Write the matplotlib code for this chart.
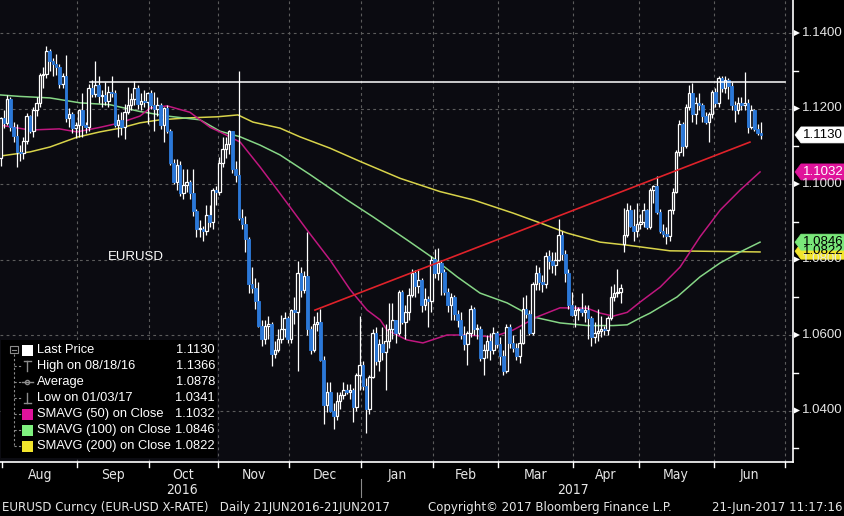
import numpy as np
import pandas as pd
import matplotlib
matplotlib.use("Agg")
import matplotlib.pyplot as plt
from matplotlib.patches import Polygon, Rectangle
from matplotlib.lines import Line2D
from matplotlib import font_manager as fm

# ---------------- data (O, H, L, C) per month ----------------
jul_2016 = [(1.1070, 1.1178, 1.1048, 1.1174)]
aug_2016 = [
    (1.1174, 1.1195, 1.1148, 1.1162), (1.1162, 1.1235, 1.1155, 1.1224), (1.1224, 1.1230, 1.1140, 1.1150),
    (1.1150, 1.1165, 1.1110, 1.1128), (1.1128, 1.1160, 1.1045, 1.1085), (1.1085, 1.1102, 1.1060, 1.1083),
    (1.1083, 1.1125, 1.1066, 1.1115), (1.1115, 1.1188, 1.1105, 1.1180), (1.1180, 1.1183, 1.1135, 1.1140),
    (1.1140, 1.1205, 1.1125, 1.1195), (1.1195, 1.1230, 1.1180, 1.1215), (1.1215, 1.1295, 1.1205, 1.1288),
    (1.1288, 1.1310, 1.1255, 1.1292), (1.1292, 1.1366, 1.1280, 1.1352), (1.1352, 1.1358, 1.1300, 1.1325),
    (1.1325, 1.1335, 1.1285, 1.1318), (1.1318, 1.1345, 1.1290, 1.1310), (1.1310, 1.1318, 1.1255, 1.1265),
    (1.1265, 1.1295, 1.1255, 1.1285), (1.1285, 1.1342, 1.1165, 1.1175), (1.1175, 1.1202, 1.1152, 1.1185),
    (1.1185, 1.1192, 1.1135, 1.1148), (1.1148, 1.1165, 1.1122, 1.1157),
]
sep_2016 = [
    (1.1157, 1.1200, 1.1125, 1.1195), (1.1195, 1.1240, 1.1125, 1.1155), (1.1155, 1.1165, 1.1135, 1.1150),
    (1.1150, 1.1265, 1.1140, 1.1255), (1.1255, 1.1275, 1.1230, 1.1238), (1.1238, 1.1327, 1.1230, 1.1262),
    (1.1262, 1.1285, 1.1215, 1.1232), (1.1232, 1.1250, 1.1205, 1.1235), (1.1235, 1.1270, 1.1210, 1.1220),
    (1.1220, 1.1260, 1.1205, 1.1245), (1.1245, 1.1285, 1.1230, 1.1240), (1.1240, 1.1250, 1.1150, 1.1155),
    (1.1155, 1.1185, 1.1125, 1.1170), (1.1170, 1.1190, 1.1130, 1.1150), (1.1150, 1.1212, 1.1120, 1.1190),
    (1.1190, 1.1257, 1.1185, 1.1208), (1.1208, 1.1240, 1.1195, 1.1225), (1.1225, 1.1272, 1.1210, 1.1255),
    (1.1255, 1.1262, 1.1200, 1.1212), (1.1212, 1.1240, 1.1195, 1.1220), (1.1220, 1.1250, 1.1205, 1.1218),
    (1.1218, 1.1245, 1.1160, 1.1240),
]
oct_2016 = [
    (1.1240, 1.1250, 1.1200, 1.1210), (1.1210, 1.1245, 1.1140, 1.1200), (1.1200, 1.1230, 1.1180, 1.1210),
    (1.1210, 1.1215, 1.1145, 1.1155), (1.1155, 1.1205, 1.1110, 1.1200), (1.1200, 1.1210, 1.1135, 1.1140),
    (1.1140, 1.1145, 1.1050, 1.1055), (1.1055, 1.1065, 1.1000, 1.1005), (1.1005, 1.1065, 1.0985, 1.1050),
    (1.1050, 1.1060, 1.0968, 1.0975), (1.0975, 1.1040, 1.0960, 1.0998), (1.0998, 1.1040, 1.0980, 1.1005),
    (1.1005, 1.1010, 1.0960, 1.0975), (1.0975, 1.1040, 1.0915, 1.0928), (1.0928, 1.0935, 1.0860, 1.0880),
    (1.0880, 1.0905, 1.0860, 1.0882), (1.0882, 1.0890, 1.0850, 1.0875), (1.0875, 1.0945, 1.0865, 1.0918),
    (1.0918, 1.0944, 1.0885, 1.0900), (1.0900, 1.0990, 1.0880, 1.0985), (1.0985, 1.0995, 1.0945, 1.0980),
]
nov_2016 = [
    (1.0980, 1.1072, 1.0970, 1.1055), (1.1055, 1.1125, 1.1045, 1.1092), (1.1092, 1.1125, 1.1070, 1.1105),
    (1.1105, 1.1143, 1.1080, 1.1140), (1.1140, 1.1140, 1.1030, 1.1040), (1.1040, 1.1060, 1.1005, 1.1025),
    (1.1025, 1.1300, 1.0905, 1.0910), (1.0910, 1.0935, 1.0880, 1.0895), (1.0895, 1.0915, 1.0820, 1.0855),
    (1.0855, 1.0860, 1.0710, 1.0735), (1.0735, 1.0780, 1.0710, 1.0725), (1.0725, 1.0750, 1.0670, 1.0690),
    (1.0690, 1.0740, 1.0620, 1.0625), (1.0625, 1.0640, 1.0570, 1.0590), (1.0590, 1.0640, 1.0575, 1.0625),
    (1.0625, 1.0650, 1.0590, 1.0630), (1.0630, 1.0635, 1.0518, 1.0550), (1.0550, 1.0585, 1.0540, 1.0560),
    (1.0560, 1.0615, 1.0555, 1.0590), (1.0590, 1.0654, 1.0580, 1.0615), (1.0615, 1.0660, 1.0595, 1.0645),
    (1.0645, 1.0650, 1.0580, 1.0590),
]
dec_2016 = [
    (1.0590, 1.0670, 1.0580, 1.0665), (1.0665, 1.0700, 1.0630, 1.0660), (1.0660, 1.0795, 1.0505, 1.0765),
    (1.0765, 1.0780, 1.0700, 1.0720), (1.0720, 1.0770, 1.0710, 1.0755), (1.0755, 1.0874, 1.0600, 1.0615),
    (1.0615, 1.0625, 1.0550, 1.0560), (1.0560, 1.0650, 1.0555, 1.0630), (1.0630, 1.0660, 1.0610, 1.0635),
    (1.0635, 1.0670, 1.0530, 1.0535), (1.0535, 1.0545, 1.0365, 1.0415), (1.0415, 1.0475, 1.0395, 1.0450),
    (1.0450, 1.0475, 1.0395, 1.0400), (1.0400, 1.0420, 1.0352, 1.0385), (1.0385, 1.0450, 1.0375, 1.0425),
    (1.0425, 1.0450, 1.0405, 1.0440), (1.0440, 1.0475, 1.0430, 1.0455), (1.0455, 1.0470, 1.0445, 1.0450),
    (1.0450, 1.0470, 1.0430, 1.0455), (1.0455, 1.0460, 1.0370, 1.0410), (1.0410, 1.0500, 1.0400, 1.0495),
    (1.0495, 1.0650, 1.0455, 1.0520),
]
jan_2017 = [
    (1.0520, 1.0530, 1.0455, 1.0465), (1.0465, 1.0485, 1.0341, 1.0405), (1.0405, 1.0495, 1.0390, 1.0490),
    (1.0490, 1.0615, 1.0485, 1.0605), (1.0605, 1.0620, 1.0520, 1.0530), (1.0530, 1.0590, 1.0505, 1.0575),
    (1.0575, 1.0620, 1.0535, 1.0555), (1.0555, 1.0630, 1.0455, 1.0585), (1.0585, 1.0685, 1.0565, 1.0615),
    (1.0615, 1.0685, 1.0590, 1.0640), (1.0640, 1.0640, 1.0580, 1.0605), (1.0605, 1.0720, 1.0600, 1.0715),
    (1.0715, 1.0720, 1.0630, 1.0635), (1.0635, 1.0680, 1.0590, 1.0660), (1.0660, 1.0725, 1.0640, 1.0705),
    (1.0705, 1.0775, 1.0700, 1.0765), (1.0765, 1.0772, 1.0700, 1.0730), (1.0730, 1.0775, 1.0710, 1.0745),
    (1.0745, 1.0750, 1.0660, 1.0680), (1.0680, 1.0725, 1.0665, 1.0695), (1.0695, 1.0702, 1.0620, 1.0690),
    (1.0690, 1.0810, 1.0660, 1.0800),
]
feb_2017 = [
    (1.0800, 1.0829, 1.0750, 1.0765), (1.0765, 1.0830, 1.0745, 1.0790), (1.0790, 1.0795, 1.0705, 1.0768),
    (1.0768, 1.0775, 1.0705, 1.0715), (1.0715, 1.0725, 1.0660, 1.0680), (1.0680, 1.0710, 1.0640, 1.0700),
    (1.0700, 1.0705, 1.0640, 1.0655), (1.0655, 1.0665, 1.0620, 1.0640), (1.0640, 1.0660, 1.0590, 1.0600),
    (1.0600, 1.0625, 1.0560, 1.0575), (1.0575, 1.0610, 1.0520, 1.0605), (1.0605, 1.0680, 1.0595, 1.0670),
    (1.0670, 1.0675, 1.0600, 1.0615), (1.0615, 1.0630, 1.0590, 1.0617), (1.0617, 1.0625, 1.0530, 1.0540),
    (1.0540, 1.0575, 1.0495, 1.0560), (1.0560, 1.0600, 1.0540, 1.0585), (1.0585, 1.0605, 1.0535, 1.0560),
    (1.0560, 1.0620, 1.0550, 1.0605), (1.0605, 1.0610, 1.0565, 1.0575),
]
mar_2017 = [
    (1.0575, 1.0595, 1.0520, 1.0545), (1.0545, 1.0560, 1.0495, 1.0505), (1.0505, 1.0630, 1.0500, 1.0620),
    (1.0620, 1.0630, 1.0565, 1.0580), (1.0580, 1.0600, 1.0555, 1.0565), (1.0565, 1.0580, 1.0535, 1.0545),
    (1.0545, 1.0615, 1.0525, 1.0580), (1.0580, 1.0700, 1.0575, 1.0670), (1.0670, 1.0705, 1.0645, 1.0655),
    (1.0655, 1.0665, 1.0600, 1.0605), (1.0605, 1.0740, 1.0600, 1.0735), (1.0735, 1.0785, 1.0720, 1.0765),
    (1.0765, 1.0780, 1.0720, 1.0740), (1.0740, 1.0760, 1.0715, 1.0735), (1.0735, 1.0820, 1.0725, 1.0810),
    (1.0810, 1.0825, 1.0775, 1.0795), (1.0795, 1.0820, 1.0765, 1.0785), (1.0785, 1.0820, 1.0760, 1.0800),
    (1.0800, 1.0906, 1.0795, 1.0865), (1.0865, 1.0875, 1.0800, 1.0815), (1.0815, 1.0825, 1.0740, 1.0765),
    (1.0765, 1.0775, 1.0670, 1.0680), (1.0680, 1.0715, 1.0650, 1.0652),
]
apr_2017 = [
    (1.0652, 1.0680, 1.0620, 1.0665), (1.0665, 1.0675, 1.0640, 1.0670), (1.0670, 1.0710, 1.0650, 1.0660),
    (1.0660, 1.0680, 1.0635, 1.0665), (1.0665, 1.0680, 1.0590, 1.0645), (1.0645, 1.0650, 1.0570, 1.0595),
    (1.0595, 1.0635, 1.0580, 1.0605), (1.0605, 1.0670, 1.0585, 1.0610), (1.0610, 1.0650, 1.0595, 1.0615),
    (1.0615, 1.0625, 1.0600, 1.0612), (1.0612, 1.0650, 1.0600, 1.0645), (1.0645, 1.0730, 1.0640, 1.0700),
    (1.0700, 1.0735, 1.0690, 1.0710), (1.0710, 1.0775, 1.0700, 1.0715), (1.0715, 1.0735, 1.0685, 1.0725),
    (1.0840, 1.0937, 1.0820, 1.0865), (1.0865, 1.0950, 1.0860, 1.0930), (1.0930, 1.0945, 1.0885, 1.0890),
    (1.0890, 1.0935, 1.0850, 1.0875), (1.0875, 1.0950, 1.0860, 1.0895),
]
may_2017 = [
    (1.0895, 1.0920, 1.0880, 1.0900), (1.0900, 1.0950, 1.0885, 1.0930), (1.0930, 1.0935, 1.0880, 1.0885),
    (1.0885, 1.0990, 1.0880, 1.0985), (1.0985, 1.0997, 1.0950, 1.0995), (1.0995, 1.1022, 1.0920, 1.0925),
    (1.0925, 1.0935, 1.0870, 1.0875), (1.0875, 1.0895, 1.0860, 1.0868), (1.0868, 1.0885, 1.0840, 1.0862),
    (1.0862, 1.0935, 1.0850, 1.0932), (1.0932, 1.0990, 1.0920, 1.0980), (1.0980, 1.1090, 1.0975, 1.1085),
    (1.1085, 1.1170, 1.1075, 1.1160), (1.1160, 1.1165, 1.1075, 1.1100), (1.1100, 1.1212, 1.1095, 1.1205),
    (1.1205, 1.1262, 1.1195, 1.1240), (1.1240, 1.1268, 1.1165, 1.1185), (1.1185, 1.1230, 1.1160, 1.1215),
    (1.1215, 1.1240, 1.1195, 1.1208), (1.1208, 1.1215, 1.1165, 1.1180), (1.1180, 1.1190, 1.1160, 1.1165),
    (1.1165, 1.1190, 1.1110, 1.1185), (1.1185, 1.1250, 1.1175, 1.1245),
]
jun_2017 = [
    (1.1245, 1.1255, 1.1205, 1.1215), (1.1215, 1.1285, 1.1205, 1.1280), (1.1280, 1.1285, 1.1245, 1.1255),
    (1.1255, 1.1285, 1.1240, 1.1275), (1.1275, 1.1280, 1.1225, 1.1260), (1.1260, 1.1270, 1.1195, 1.1210),
    (1.1210, 1.1220, 1.1165, 1.1195), (1.1195, 1.1230, 1.1185, 1.1215), (1.1215, 1.1230, 1.1195, 1.1210),
    (1.1210, 1.1296, 1.1195, 1.1215), (1.1215, 1.1225, 1.1135, 1.1150), (1.1150, 1.1210, 1.1145, 1.1195),
    (1.1195, 1.1200, 1.1140, 1.1145), (1.1145, 1.1160, 1.1130, 1.1135), (1.1135, 1.1165, 1.1120, 1.1130),
]

# moving averages: (trading-day index, value)
sma50_idx = [-1.2, 8, 17, 22.4, 29.4, 35.6, 41.7, 44.8, 50, 57, 63.2, 66.2, 72.4, 78.5, 84.6, 92.9,
             99.9, 106.1, 111.3, 115.3, 117.4, 123.5, 128.4, 135.8, 141.9, 149.9, 156, 163.4, 170.4,
             178.7, 182.7, 186.7, 191, 194.9, 201.1, 207.2, 213.3, 219.5, 225.6, 231.7]
sma50_val = [1.1156, 1.1143, 1.1146, 1.1138, 1.1150, 1.1162, 1.1180, 1.1201, 1.1207, 1.1190, 1.1150,
             1.1138, 1.1111, 1.1045, 1.0975, 1.0878, 1.0799, 1.0720, 1.0666, 1.0640, 1.0613, 1.0587,
             1.0579, 1.0600, 1.0600, 1.0595, 1.0613, 1.0648, 1.0672, 1.0671, 1.0658, 1.0650, 1.0660,
             1.0687, 1.0727, 1.0780, 1.0860, 1.0931, 1.0984, 1.1032]
sma100_idx = [-1.2, 4.9, 14.1, 23.3, 32.5, 41.7, 50, 60.1, 66.2, 72.4, 78.5, 84.6, 93.8, 105.1, 113.1,
              123.5, 131.5, 138.9, 145.9, 154.2, 162.1, 170.4, 178.7, 186.7, 191, 194.9, 198, 206.3,
              213.3, 219.5, 225.6, 231.7]
sma100_val = [1.1236, 1.1232, 1.1228, 1.1215, 1.1210, 1.1192, 1.1180, 1.1170, 1.1140, 1.1125, 1.1103,
              1.1077, 1.1025, 1.0958, 1.0913, 1.0852, 1.0804, 1.0754, 1.0711, 1.0685, 1.0648, 1.0632,
              1.0625, 1.0625, 1.0627, 1.0645, 1.0658, 1.0701, 1.0754, 1.0791, 1.0820, 1.0846]
sma200_idx = [-1.2, 8, 14.1, 22.4, 29.4, 35.6, 41.7, 47.8, 56.1, 65.3, 71.7, 76.3, 84.6, 90.7, 99.9,
              109.1, 121.4, 133.6, 143.8, 156, 164.3, 172.6, 182.7, 191, 204.1, 231.7]
sma200_val = [1.1074, 1.1085, 1.1098, 1.1124, 1.1138, 1.1148, 1.1162, 1.1170, 1.1175, 1.1178, 1.1183,
              1.1164, 1.1148, 1.1125, 1.1095, 1.1060, 1.1015, 1.0980, 1.0958, 1.0923, 1.0897, 1.0870,
              1.0846, 1.0838, 1.0823, 1.0820]

trend_idx = [95.3, 228.6]
trend_val = [1.0666, 1.1111]
hline_idx = [26.4, 239.4]
hline_val = 1.1270
label_idx, label_val = 32.0, 1.0807

y_ticks = [1.04, 1.06, 1.08, 1.10, 1.12, 1.14]
month_names = ["Aug", "Sep", "Oct", "Nov", "Dec", "Jan", "Feb", "Mar", "Apr", "May", "Jun"]
legend_rows = ["Last Price", "High on 08/18/16", "Average", "Low on 01/03/17",
               "SMAVG (50) on Close", "SMAVG (100) on Close", "SMAVG (200) on Close"]
legend_vals = ["1.1130", "1.1366", "1.0878", "1.0341", "1.1032", "1.0846", "1.0822"]
last_price = 1.1130
sma_last = [1.1032, 1.0846, 1.0822]

# ---------------- fonts ----------------
names = {f.name for f in fm.fontManager.ttflist}
SANS = "Liberation Sans" if "Liberation Sans" in names else "DejaVu Sans"


def _is_regular(f):
    w = f.weight
    try:
        w = int(w)
    except (TypeError, ValueError):
        w = 700 if str(w).lower() in ("bold", "heavy", "black", "semibold", "demibold") else 400
    return f.style == "normal" and w < 600


COND_FP = None
for f in fm.fontManager.ttflist:
    if _is_regular(f) and ("Narrow" in f.name or "Condensed" in f.name or
                           str(f.stretch) in ("condensed", "semi-condensed", "extra-condensed")):
        COND_FP = f.fname
        break

# ---------------- setup ----------------
W, H = 845, 516
fig = plt.figure(figsize=(W / 100, H / 100), dpi=100, facecolor="black")
AX_L, AX_B, AX_W, AX_H = 0, 54, 793, 462   # pixels
ax = fig.add_axes([AX_L / W, AX_B / H, AX_W / W, AX_H / H])
BG = "#0b0b11"
ax.set_facecolor(BG)
XL, XR = -1.2, 241.8
YB, YT = 1.14 - 429 / 3775, 1.14 + 33 / 3775
ax.set_xlim(XL, XR)
ax.set_ylim(YB, YT)
for s in ax.spines.values():
    s.set_visible(False)
ax.set_xticks([])
ax.set_yticks([])


def fx(px):
    return px / W


def fy(py):
    return 1 - py / H


def idx2px(i):
    return AX_L + (i - XL) / (XR - XL) * AX_W


def val2py(v):
    return (H - AX_B) - (v - YB) / (YT - YB) * AX_H


def ntext(xp, yp, s, size, **kw):
    """Condensed-looking text (Bloomberg axis font)."""
    if COND_FP:
        fp = fm.FontProperties(fname=COND_FP, size=size * 1.05)
        return fig.text(fx(xp), fy(yp), s, fontproperties=fp, **kw)
    return fig.text(fx(xp), fy(yp), s, fontsize=size * 0.92, family=SANS, **kw)


ohlc = np.array([r for m in [jul_2016, aug_2016, sep_2016, oct_2016, nov_2016, dec_2016, jan_2017,
                             feb_2017, mar_2017, apr_2017, may_2017, jun_2017] for r in m])
n = len(ohlc)
x = np.arange(n) - 1
o, h, l, c = ohlc.T

axis_dates = pd.bdate_range("2016-07-29", "2017-06-30")
axis_idx = np.arange(len(axis_dates)) - 1
bounds = [-0.5]
for k in range(1, len(axis_dates)):
    if axis_dates[k].month != axis_dates[k - 1].month and axis_idx[k] > 0:
        bounds.append(axis_idx[k] - 0.5)
bounds.append(axis_idx[-1] + 0.5)

# grid
GRID = "#5c5c5c"
for v in y_ticks:
    ax.axhline(v, color=GRID, lw=0.8, ls=(0, (2.5, 3)), zorder=1)
for b in bounds[1:]:
    ax.axvline(b, color=GRID, lw=0.8, ls=(0, (2.5, 3)), zorder=1)

# moving averages
ax.plot(sma200_idx, sma200_val, color="#d8d34a", lw=1.1, zorder=2)
ax.plot(sma100_idx, sma100_val, color="#86d686", lw=1.1, zorder=2)
ax.plot(sma50_idx, sma50_val, color="#c0177f", lw=1.1, zorder=2)

# candles
up = c >= o
BLUE = "#2b78d8"
ax.vlines(x, l, h, color="white", lw=0.9, zorder=3)
body_lo = np.minimum(o, c)
body_h = np.maximum(np.abs(c - o), 0.00025)
ax.bar(x[up], body_h[up], bottom=body_lo[up], width=0.78, color=BG, edgecolor="white",
       linewidth=0.9, zorder=4)
ax.bar(x[~up], body_h[~up], bottom=body_lo[~up], width=0.82, color=BLUE, edgecolor=BLUE,
       linewidth=0.6, zorder=4)

# trend line and horizontal line
ax.plot(trend_idx, trend_val, color="#e0222a", lw=1.2, zorder=5)
ax.plot(hline_idx, [hline_val, hline_val], color="white", lw=1.1, zorder=5)

ax.text(label_idx, label_val, "EURUSD", color="white", fontsize=9.5, family=SANS,
        va="center", ha="left", zorder=6)

# axes lines
fig.add_artist(Line2D([fx(793), fx(793)], [fy(0), fy(462)], color="white", lw=1.2))
fig.add_artist(Line2D([fx(0), fx(793)], [fy(462), fy(462)], color="white", lw=1.2))

# right axis ticks/labels
minor = [1.03, 1.05, 1.07, 1.09, 1.11, 1.13]
for v in minor:
    py = val2py(v)
    fig.add_artist(Line2D([fx(793), fx(798)], [fy(py), fy(py)], color="white", lw=1.0))
for v in y_ticks:
    py = val2py(v)
    fig.add_artist(Polygon([(fx(794), fy(py - 3)), (fx(800), fy(py)), (fx(794), fy(py + 3))],
                           closed=True, color="white", lw=0))
    fig.text(fx(802), fy(py), f"{v:.4f}", color="#e6e6e6", fontsize=9.5, family=SANS,
             va="center", ha="left")


def tag(v, face, txt_color, text):
    py = val2py(v)
    pts = [(795, py), (801, py - 8), (845, py - 8), (845, py + 8), (801, py + 8)]
    fig.add_artist(Polygon([(fx(a), fy(b)) for a, b in pts], closed=True, facecolor=face,
                           edgecolor=face, lw=0.5))
    fig.text(fx(803), fy(py), text, color=txt_color, fontsize=9.5, family=SANS, va="center",
             ha="left")


tag(sma_last[2], "#f2e52c", "black", f"{sma_last[2]:.4f}")
tag(sma_last[1], "#7ae87a", "black", f"{sma_last[1]:.4f}")
tag(sma_last[0], "#e0139b", "white", f"{sma_last[0]:.4f}")
tag(last_price, "white", "black", f"{last_price:.4f}")

# bottom axis: month ticks, labels, years
for b in bounds:
    px = idx2px(b)
    fig.add_artist(Line2D([fx(px), fx(px)], [fy(462), fy(467)], color="white", lw=1.0))
for k, name in enumerate(month_names):
    cx = idx2px((bounds[k] + bounds[k + 1]) / 2)
    ntext(cx, 475, name, 9.5, color="#e6e6e6", ha="center", va="center")
ntext(idx2px((bounds[0] + bounds[5]) / 2), 490, "2016", 9.5, color="#e6e6e6",
      ha="center", va="center")
ntext(idx2px((bounds[5] + bounds[11]) / 2), 490, "2017", 9.5, color="#e6e6e6",
      ha="center", va="center")
sx = idx2px(bounds[5])
fig.add_artist(Line2D([fx(sx), fx(sx)], [fy(479), fy(497)], color="#8a8a8a", lw=0.8))

ntext(2, 507, "EURUSD Curncy (EUR-USD X-RATE)   Daily 21JUN2016-21JUN2017", 9,
      color="#e6e6e6", ha="left", va="center")
ntext(428, 507, "Copyright\u00a9 2017 Bloomberg Finance L.P.", 9, color="#e6e6e6",
      ha="left", va="center")
ntext(843, 507, "21-Jun-2017 11:17:16", 9, color="#e6e6e6", ha="right", va="center")

# legend box
fig.add_artist(Rectangle((fx(1), fy(458)), fx(216), 118 / H, facecolor="black", edgecolor="none"))
rows_y = [350, 366, 382, 398, 414, 430, 446]
tree = "#8c8c8c"
fig.add_artist(Line2D([fx(14), fx(14)], [fy(354), fy(446)], color=tree, lw=0.8, ls=(0, (2, 2))))
fig.add_artist(Rectangle((fx(10.5), fy(353)), 7 / W, 7 / H, facecolor="none", edgecolor=tree, lw=0.8))
fig.add_artist(Line2D([fx(12), fx(16)], [fy(349.5), fy(349.5)], color=tree, lw=0.8))
for k, yy in enumerate(rows_y[1:], start=1):
    fig.add_artist(Line2D([fx(14), fx(21)], [fy(yy), fy(yy)], color=tree, lw=0.8, ls=(0, (2, 2))))
sq_colors = {0: "white", 4: "#e0139b", 5: "#7ef07e", 6: "#f2e52c"}
for k, yy in enumerate(rows_y):
    if k in sq_colors:
        fig.add_artist(Rectangle((fx(22), fy(yy + 5.5)), 11 / W, 11 / H, facecolor=sq_colors[k],
                                 edgecolor="none"))
    fig.text(fx(37), fy(yy), legend_rows[k], color="white", fontsize=9.3, family=SANS,
             ha="left", va="center")
    fig.text(fx(215), fy(yy), legend_vals[k], color="white", fontsize=9.3, family=SANS,
             ha="right", va="center")
# high / average / low glyph markers
yy = rows_y[1]
fig.add_artist(Line2D([fx(24), fx(31)], [fy(yy - 5), fy(yy - 5)], color=tree, lw=1.0))
fig.add_artist(Line2D([fx(27.5), fx(27.5)], [fy(yy - 5), fy(yy + 5)], color=tree, lw=1.0))
yy = rows_y[2]
fig.add_artist(Line2D([fx(22), fx(33)], [fy(yy), fy(yy)], color=tree, lw=1.0))
fig.add_artist(Line2D([fx(27.5)], [fy(yy)], color=tree, marker="o", ms=3, mfc="none", lw=0))
yy = rows_y[3]
fig.add_artist(Line2D([fx(24), fx(31)], [fy(yy + 5), fy(yy + 5)], color=tree, lw=1.0))
fig.add_artist(Line2D([fx(27.5), fx(27.5)], [fy(yy - 5), fy(yy + 5)], color=tree, lw=1.0))

fig.savefig("out.png", dpi=100, facecolor="black")
